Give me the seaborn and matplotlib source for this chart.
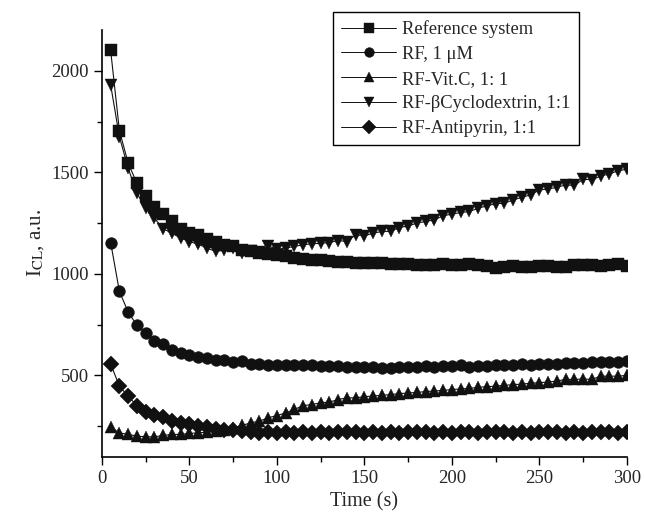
import matplotlib
matplotlib.use('Agg')
import matplotlib.pyplot as plt
import pandas as pd
import seaborn as sns
from matplotlib.ticker import AutoMinorLocator, MultipleLocator

# time axis, one reading every 5 s
time_s = list(range(5, 301, 5))

reference = [2100, 1705, 1545, 1446, 1384, 1328, 1294, 1258, 1222, 1200,
             1189, 1172, 1156, 1143, 1135, 1118, 1113, 1102, 1097, 1092,
             1086, 1080, 1075, 1069, 1066, 1064, 1058, 1056, 1054, 1053,
             1052, 1051, 1049, 1048, 1046, 1044, 1043, 1043, 1046, 1042,
             1042, 1048, 1042, 1040, 1031, 1036, 1040, 1036, 1036, 1038,
             1040, 1032, 1036, 1045, 1045, 1041, 1040, 1045, 1048, 1040]
rf = [1154, 913, 812, 746, 709, 671, 655, 627, 610, 602,
      591, 584, 578, 574, 566, 569, 556, 556, 553, 553,
      551, 550, 551, 550, 548, 545, 545, 541, 541, 543,
      540, 537, 538, 540, 541, 543, 545, 543, 545, 548,
      550, 541, 545, 548, 550, 553, 553, 556, 553, 558,
      556, 558, 561, 561, 563, 566, 564, 566, 568, 569]
vitc = [245, 217, 209, 201, 197, 197, 204, 209, 209, 214,
        217, 220, 225, 233, 242, 253, 266, 274, 291, 302,
        315, 332, 351, 356, 365, 368, 381, 389, 389, 395,
        398, 402, 405, 410, 413, 416, 420, 423, 426, 430,
        433, 436, 441, 444, 447, 451, 454, 457, 461, 464,
        467, 472, 480, 480, 482, 480, 496, 496, 496, 500]
cyclo = [1930, 1675, 1520, 1397, 1323, 1274, 1222, 1200, 1176, 1159,
         1146, 1127, 1110, 1118, 1127, 1102, 1110, 1105, 1138, 1120,
         1127, 1135, 1143, 1148, 1150, 1154, 1164, 1159, 1192, 1187,
         1200, 1209, 1209, 1228, 1236, 1250, 1258, 1266, 1286, 1294,
         1302, 1307, 1323, 1335, 1345, 1348, 1364, 1377, 1389, 1413,
         1418, 1426, 1438, 1435, 1466, 1463, 1482, 1492, 1508, 1515]
antipyrin = [556, 446, 397, 351, 319, 307, 296, 274, 266, 258,
             250, 245, 237, 233, 230, 225, 220, 217, 220, 218,
             220, 217, 220, 218, 220, 217, 220, 219, 220, 218,
             221, 218, 220, 217, 220, 219, 221, 218, 220, 217,
             220, 222, 218, 220, 219, 221, 218, 220, 217, 220,
             219, 221, 218, 220, 217, 221, 219, 220, 218, 220]

labels = ['Reference system', 'RF, 1 \u03bcM', 'RF-Vit.C, 1: 1',
          'RF-\u03b2Cyclodextrin, 1:1', 'RF-Antipyrin, 1:1']
series = [reference, rf, vitc, cyclo, antipyrin]
markers = ['s', 'o', '^', 'v', 'D']

frames = [pd.DataFrame({'time': time_s, 'value': vals, 'series': lab})
          for lab, vals in zip(labels, series)]
df = pd.concat(frames, ignore_index=True)

sns.set_style('ticks')
plt.rcParams['font.family'] = ['Liberation Serif', 'DejaVu Serif']
plt.rcParams['mathtext.fontset'] = 'stix'

fig = plt.figure(figsize=(6.45, 5.2), dpi=100)
ax = fig.add_axes([0.158, 0.122, 0.814, 0.820])

sns.lineplot(data=df, x='time', y='value', hue='series', style='series',
             hue_order=labels, style_order=labels,
             palette=['#111111'] * 5, markers=dict(zip(labels, markers)),
             dashes=False, markersize=8.5, markeredgewidth=0.3,
             markeredgecolor='#111111',
             linewidth=0.8, ax=ax, legend=True)

ax.set_xlim(0, 300)
ax.set_ylim(100, 2200)
ax.xaxis.set_major_locator(MultipleLocator(50))
ax.yaxis.set_major_locator(MultipleLocator(500))
ax.xaxis.set_minor_locator(AutoMinorLocator(2))
ax.yaxis.set_minor_locator(AutoMinorLocator(2))
ax.tick_params(which='major', direction='out', length=6, width=1, labelsize=13.5, color='black')
ax.tick_params(which='minor', direction='out', length=3.5, width=1, color='black')
sns.despine(ax=ax)
for s in ['left', 'bottom']:
    ax.spines[s].set_linewidth(1.2)
    ax.spines[s].set_color('black')

ax.set_xlabel('Time (s)', fontsize=14.5)
ax.set_ylabel(r'I$_{\mathrm{CL}}$, a.u.', fontsize=15)

leg = ax.legend(loc='upper right', bbox_to_anchor=(0.897, 0.977),
                bbox_transform=fig.transFigure, borderaxespad=0,
                frameon=True, fancybox=False,
                fontsize=13.3, handlelength=3.0, handletextpad=0.3,
                labelspacing=0.42, borderpad=0.45)
leg.get_frame().set_edgecolor('black')
leg.get_frame().set_linewidth(1.0)
leg.get_frame().set_alpha(1)
for h in leg.legend_handles:
    h.set_markersize(7)
    h.set_linewidth(0.7)

fig.savefig('out.png', dpi=100)
